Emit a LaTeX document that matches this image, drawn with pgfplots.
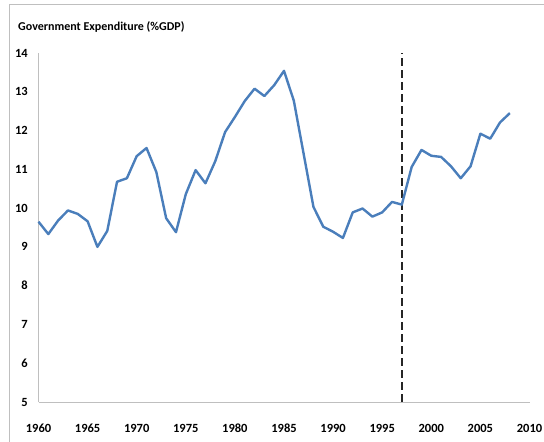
\documentclass[border=0pt]{standalone}
\usepackage{fontspec}
\setmainfont{Carlito}
\usepackage{pgfplots}
\pgfplotsset{compat=1.18}
\definecolor{xlblue}{HTML}{4A7EBB}
\definecolor{axgray}{HTML}{BFBFBF}
\begin{document}
\fontsize{12bp}{14.5bp}\selectfont\bfseries
\begin{tikzpicture}
\path[use as bounding box] (-38.5bp,-40bp) rectangle (505.5bp,402bp);
\draw[axgray, line width=1bp] (-28.5bp,-40bp) -- (-28.5bp,397bp) -- (505.5bp,397bp);
\node[anchor=base west, inner sep=0pt] at (-20.5bp,371.3bp) {Government Expenditure (\%GDP)};
\begin{axis}[
  at={(0,0)}, anchor=south west,
  scale only axis, width=491bp, height=349bp,
  xmin=1960, xmax=2010, ymin=5, ymax=14,
  axis x line*=bottom, axis y line*=left,
  axis line style={axgray, line width=1bp, -},
  xtick={1960,1965,...,2010}, ytick={5,6,...,14},
  major tick length=0pt,
  /pgf/number format/assume math mode=true,
  /pgf/number format/1000 sep={},
  tick label style={font=\fontsize{12.5bp}{15bp}\selectfont\bfseries, inner sep=0pt},
  xticklabel style={anchor=center, yshift=-26bp},
  yticklabel style={anchor=east, xshift=-10.5bp},
  clip=false,
]
\addplot[black!85, line width=2.2bp, dash pattern=on 8bp off 4bp] coordinates {(1997,5) (1997,14)};
\addplot[xlblue, line width=2.4bp, line join=round] coordinates {
(1960,9.65) (1961,9.33) (1962,9.68) (1963,9.94) (1964,9.85) (1965,9.66)
(1966,9.00) (1967,9.41) (1968,10.68) (1969,10.77) (1970,11.34) (1971,11.55)
(1972,10.93) (1973,9.74) (1974,9.38) (1975,10.36) (1976,10.98) (1977,10.64)
(1978,11.21) (1979,11.96) (1980,12.35) (1981,12.76) (1982,13.08) (1983,12.89)
(1984,13.17) (1985,13.54) (1986,12.77) (1987,11.40) (1988,10.03) (1989,9.52)
(1990,9.39) (1991,9.23) (1992,9.89) (1993,9.99) (1994,9.78) (1995,9.89)
(1996,10.16) (1997,10.09) (1998,11.06) (1999,11.50) (2000,11.35) (2001,11.32)
(2002,11.08) (2003,10.77) (2004,11.08) (2005,11.92) (2006,11.79) (2007,12.21)
(2008,12.45)};
\end{axis}
\end{tikzpicture}
\end{document}
